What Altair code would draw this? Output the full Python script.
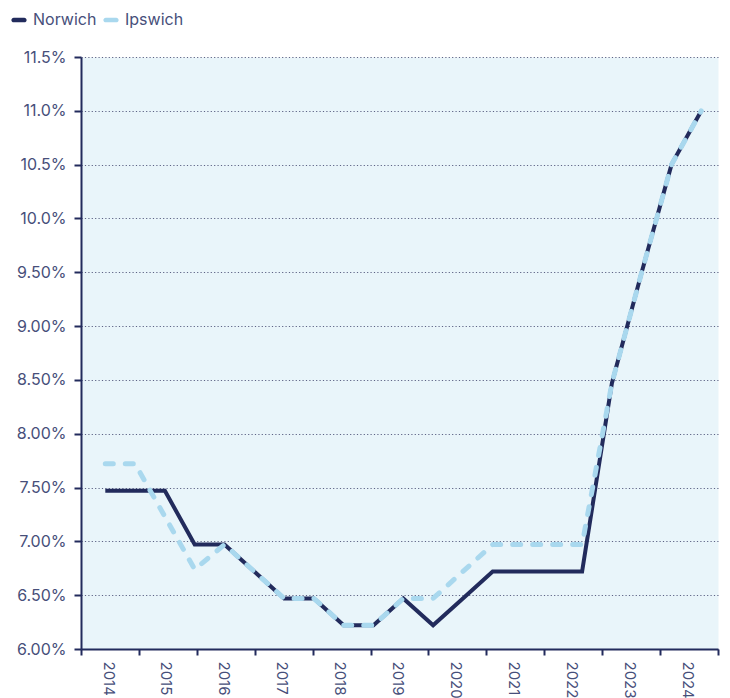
import altair as alt
import pandas as pd

# ---- data ----
periods = ["2014 H1", "2014 H2", "2015 H1", "2015 H2", "2016 H1", "2016 H2",
           "2017 H1", "2017 H2", "2018 H1", "2018 H2", "2019 H1", "2019 H2",
           "2020 H1", "2020 H2", "2021 H1", "2021 H2", "2022 H1", "2022 H2",
           "2023 H1", "2023 H2", "2024 H1"]
norwich = [7.47, 7.47, 7.47, 6.97, 6.97, 6.72, 6.47, 6.47, 6.22, 6.22, 6.47,
           6.22, 6.47, 6.72, 6.72, 6.72, 6.72, 8.47, 9.50, 10.50, 11.00]
ipswich = [7.72, 7.72, 7.23, 6.74, 6.97, 6.72, 6.47, 6.47, 6.22, 6.22, 6.47,
           6.47, 6.72, 6.97, 6.97, 6.97, 6.97, 8.47, 9.50, 10.50, 11.00]
series_names = ["Norwich", "Ipswich"]
years = [2014, 2015, 2016, 2017, 2018, 2019, 2020, 2021, 2022, 2023, 2024]
year_bounds = [2013.5, 2014.5, 2015.5, 2016.5, 2017.5, 2018.5, 2019.5,
               2020.5, 2021.5, 2022.5, 2023.5, 2024.5]
y_ticks = [6.0, 6.5, 7.0, 7.5, 8.0, 8.5, 9.0, 9.5, 10.0, 10.5, 11.0, 11.5]

# ---- styles ----
NAVY = "#222b5c"
LIGHT = "#a9d8ee"
BG = "#e9f5fa"
TXT = "#474f7a"
GRID = "#5d6385"
FONT = "Inter"
PILL = "M-1,-0.45 L1,-0.45 A0.45,0.45 0 0 1 1,0.45 L-1,0.45 A0.45,0.45 0 0 1 -1,-0.45 Z"

W, H = 637, 592

n = len(periods)
df = pd.DataFrame({
    "period": periods * 2,
    "idx": list(range(n)) * 2,
    "series": [series_names[0]] * n + [series_names[1]] * n,
    "value": norwich + ipswich,
})
years_df = pd.DataFrame({"year": years})

cscale = alt.Scale(domain=series_names, range=[NAVY, LIGHT])
color_legend = alt.Color(
    "series:N",
    scale=cscale,
    legend=alt.Legend(
        title=None, orient="none", legendX=-70, legendY=-45,
        direction="horizontal", symbolType=PILL, symbolSize=110,
        symbolStrokeWidth=0, labelFontSize=16, labelColor=TXT,
        labelFont=FONT, labelOffset=6, columnPadding=6,
    ),
)
color_plain = alt.Color("series:N", scale=cscale, legend=None)

x_idx = alt.X("idx:Q", scale=alt.Scale(domain=[-0.815, 20.56], nice=False, zero=False), axis=None)
y_val = alt.Y(
    "value:Q",
    scale=alt.Scale(domain=[6.0, 11.5], nice=False, zero=False),
    axis=alt.Axis(
        values=y_ticks, labelExpr="format(datum.value / 100, '.3p')", title=None,
        grid=True, gridDash=[1.2, 2.2], gridColor=GRID, gridWidth=1,
        domainColor=NAVY, domainWidth=2, tickColor=NAVY, tickWidth=2, tickSize=7,
        labelPadding=8, labelFontSize=16, labelColor=TXT, labelFont=FONT,
    ),
)

axis_layer = alt.Chart(years_df).mark_point(opacity=0).encode(
    x=alt.X(
        "year:Q",
        scale=alt.Scale(domain=[2013.5, 2024.5], nice=False, zero=False),
        axis=alt.Axis(
            values=year_bounds, title=None, grid=False,
            labelExpr="datum.value < 2024 ? format(datum.value + 0.5, 'd') : ''",
            labelOffset=27, labelAngle=90, labelAlign="left", labelBaseline="middle",
            labelFlush=False, labelOverlap=False, labelBound=False,
            labelPadding=6, labelFontSize=15, labelColor=TXT, labelFont=FONT,
            domainColor=NAVY, domainWidth=2, tickColor=NAVY, tickWidth=2, tickSize=6,
        ),
    ),
    y=alt.value(0),
)

# legend-only layer (no rows drawn): filled pill symbols like the reference
legend_layer = alt.Chart(df).transform_filter("false").mark_point(
    filled=True, shape=PILL, opacity=1
).encode(x=x_idx, y=y_val, color=color_legend)

nor = alt.Chart(df).transform_filter(alt.datum.series == "Norwich").mark_line(
    strokeWidth=4, strokeJoin="miter"
).encode(x=x_idx, y=y_val, color=color_plain, order="idx:Q")

ips = alt.Chart(df).transform_filter(alt.datum.series == "Ipswich").mark_line(
    strokeWidth=5, strokeDash=[8, 12], strokeCap="round", strokeJoin="round"
).encode(x=x_idx, y=y_val, color=color_plain, order="idx:Q")

chart = alt.layer(axis_layer, legend_layer, nor, ips).resolve_scale(x="independent").properties(
    width=W, height=H,
    autosize=alt.AutoSizeParams(type="none"),
    padding={"left": 73, "top": 49, "right": 4, "bottom": 49},
).configure(font=FONT).configure_view(fill=BG, stroke="transparent")

chart.save("out.html", embed_options={"renderer": "svg", "actions": False})
